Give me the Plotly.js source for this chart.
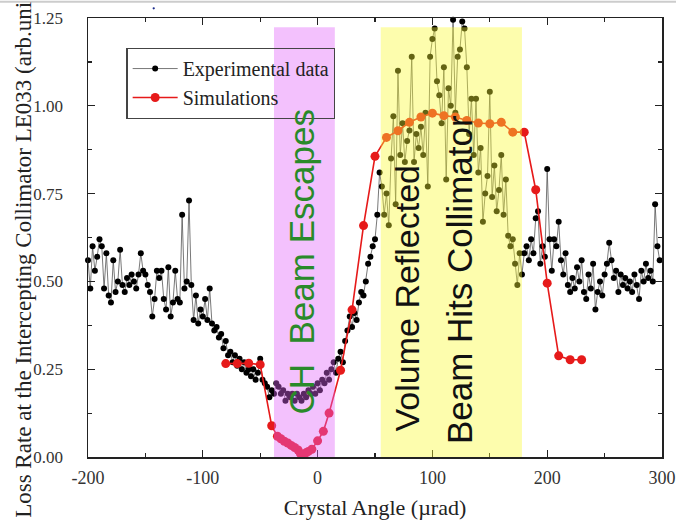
<!DOCTYPE html>
<html>
<head>
<meta charset="utf-8">
<script src="https://cdn.plot.ly/plotly-3.0.1.min.js"></script>
<style>html,body{margin:0;padding:0;background:#fff;}#chart{width:676px;height:523px;}</style>
</head>
<body>
<div id="chart"></div>
<script>
// Experimental data (crystal angle in µrad, loss rate in arb. units)
const expX = [
-200,-198,-196,-194,-192,-190,-188,-186,-184,-182,-180,-178,-176,-174,-172,-170,-168,-166,-164,-162,-160,-158,-156,-154,-152,
-150,-148,-146,-144,-142,-140,-138,-136,-134,-132,-130,-128,-126,-124,-122,-120,-118,-116,-114,-112,-110,-108,-106,-104,-102,
-100,-98,-96,-94,-92,-90,-88,-86,-84,-82,-80,-78,-76,-74,-72,-70,-68,-66,-64,-62,-60,-58,-56,-54,-52,
-50,-48,-46,-44,-42,-40,-38,-36,-34,-32,-30,-28,-26,-24,-22,-20,-18,-16,-14,-12,-10,-8,-6,-4,-2,
0,2,4,6,8,10,12,14,16,18,20,22,24,26,28,30,32,34,36,38,40,42,44,46,48,
50,52,54,56,58,60,62,64,66,68,70,72,74,76,78,80,82,84,86,88,90,92,94,96,98,
100,102,104,106,108,110,112,114,116,118,120,122,124,126,128,130,132,134,136,138,140,142,144,146,148,
150,152,154,156,158,160,162,164,166,168,170,172,174,176,178,180,182,184,186,188,190,192,194,196,198,
200,202,204,206,208,210,212,214,216,218,220,222,224,226,228,230,232,234,236,238,240,242,244,246,248,
250,252,254,256,258,260,262,264,266,268,270,272,274,276,278,280,282,284,286,288,290,292,294,296,298
];
const expY = [
0.56,0.48,0.60,0.53,0.57,0.62,0.60,0.48,0.58,0.46,0.44,0.56,0.47,0.50,0.59,0.49,0.47,0.51,0.49,0.52,0.50,0.48,0.52,0.58,0.53,
0.52,0.49,0.47,0.40,0.45,0.53,0.51,0.53,0.45,0.42,0.54,0.40,0.44,0.53,0.45,0.44,0.69,0.48,0.50,0.73,0.49,0.39,0.46,0.38,0.42,
0.40,0.45,0.39,0.48,0.38,0.36,0.37,0.34,0.35,0.31,0.33,0.29,0.30,0.27,0.29,0.26,0.28,0.25,0.27,0.24,0.25,0.23,0.25,0.22,0.24,
0.28,0.22,0.21,0.20,0.17,0.19,0.18,0.21,0.20,0.18,0.19,0.16,0.18,0.17,0.18,0.16,0.18,0.17,0.16,0.18,0.17,0.19,0.18,0.20,0.18,
0.21,0.19,0.22,0.21,0.24,0.22,0.25,0.27,0.24,0.28,0.30,0.27,0.33,0.36,0.40,0.37,0.41,0.39,0.44,0.47,0.46,0.50,0.55,0.57,0.60,
0.62,0.69,0.81,0.77,0.69,0.75,0.66,0.85,0.97,0.72,1.10,0.86,0.95,0.84,0.90,0.93,1.14,0.84,0.92,0.88,0.94,0.86,0.98,0.77,1.14,
1.19,1.22,1.07,1.03,0.95,1.11,0.79,1.05,1.00,1.245,0.98,1.14,1.16,1.24,1.22,1.11,0.92,1.02,0.86,1.02,0.81,0.88,0.67,0.75,0.80,
1.04,0.74,0.83,0.70,0.76,0.86,0.69,0.79,0.63,0.60,0.62,0.55,0.49,0.58,0.52,0.58,0.60,0.56,0.62,0.58,0.68,0.70,0.55,0.60,0.57,
0.82,0.62,0.53,0.62,0.60,0.67,0.56,0.52,0.58,0.49,0.47,0.51,0.48,0.54,0.50,0.56,0.47,0.45,0.52,0.48,0.55,0.42,0.47,0.50,0.46,
0.52,0.55,0.61,0.56,0.51,0.53,0.47,0.52,0.49,0.51,0.48,0.50,0.47,0.52,0.49,0.45,0.53,0.50,0.55,0.51,0.53,0.50,0.72,0.60,0.56
];

// Simulations
const simX = [-80,-70,-60,-50,-40,-35,-32,-29,-26,-23,-20,-17,-15,-12,-10,-8,-5,0,5,10,20,30,40,50,60,70,80,90,100,110,120,130,140,150,160,170,180,190,200,210,220,230];
const simY = [0.266,0.266,0.267,0.263,0.089,0.059,0.052,0.045,0.040,0.033,0.027,0.020,0.010,0.008,0.012,0.016,0.022,0.046,0.073,0.125,0.247,0.419,0.659,0.856,0.910,0.929,0.953,0.968,0.979,0.972,0.968,0.958,0.951,0.949,0.953,0.925,0.925,0.761,0.495,0.288,0.277,0.277];

// Axis ticks
const xTickVals = [-200,-100,0,100,200,300];
const xTickText = ["-200","-100","0","100","200","300"];
const yTickVals = [0,0.25,0.5,0.75,1.0,1.25];
const yTickText = ["0.00","0.25","0.50","0.75","1.00","1.25"];

// Highlighted regions [x0, x1, top]
const chRegion = [-38, 15, 1.224];
const vrRegion = [55, 178, 1.224];

const serif = "Liberation Serif, Times New Roman, serif";
const sans = "Liberation Sans, Arial, sans-serif";

const traces = [
  {
    x: expX, y: expY, type: "scatter", mode: "lines+markers",
    name: "Experimental data",
    line: {color: "#555555", width: 0.8},
    marker: {color: "#000000", size: 6},
    cliponaxis: false
  },
  {
    x: simX, y: simY, type: "scatter", mode: "lines+markers",
    name: "Simulations",
    line: {color: "#e61a1a", width: 1.6},
    marker: {color: "#e61a1a", size: 9},
    cliponaxis: false
  }
];

const axisCommon = {
  showline: true, linecolor: "#222", linewidth: 1.5, mirror: "allticks",
  ticks: "inside", ticklen: 7, tickwidth: 1.3, tickcolor: "#222",
  showgrid: false, zeroline: false,
  tickfont: {family: serif, size: 18, color: "#333"}
};

const layout = {
  width: 676, height: 523,
  margin: {l: 88, r: 14, t: 18, b: 66},
  paper_bgcolor: "#fff", plot_bgcolor: "#fff",
  showlegend: true,
  legend: {
    x: 0.067, y: 0.932, xanchor: "left", yanchor: "top",
    bgcolor: "rgba(0,0,0,0)", bordercolor: "#444", borderwidth: 1.2,
    font: {family: serif, size: 20, color: "#222"},
    itemwidth: 45, tracegroupgap: 0
  },
  xaxis: Object.assign({}, axisCommon, {
    range: [-200, 300], tickmode: "array", tickvals: xTickVals, ticktext: xTickText,
    ticklabelstandoff: 4,
    minor: {dtick: 50, tick0: -200, ticks: "inside", ticklen: 4, tickcolor: "#222", tickwidth: 1.2, showgrid: false},
    title: {text: "Crystal Angle (µrad)", font: {family: serif, size: 22, color: "#222"}, standoff: 12}
  }),
  yaxis: Object.assign({}, axisCommon, {
    range: [0, 1.25], tickmode: "array", tickvals: yTickVals, ticktext: yTickText,
    ticklabelstandoff: 20,
    tickfont: {family: serif, size: 17, color: "#333"},
    minor: {dtick: 0.125, tick0: 0, ticks: "inside", ticklen: 4, tickcolor: "#222", tickwidth: 1.2, showgrid: false}
  }),
  shapes: [
    {type: "rect", xref: "x", yref: "y", x0: chRegion[0], x1: chRegion[1], y0: 0, y1: chRegion[2],
     fillcolor: "rgba(225,100,250,0.4)", line: {width: 0}, layer: "above"},
    {type: "rect", xref: "x", yref: "y", x0: vrRegion[0], x1: vrRegion[1], y0: 0, y1: vrRegion[2],
     fillcolor: "rgba(250,250,50,0.4)", line: {width: 0}, layer: "above"},
    {type: "line", xref: "paper", yref: "paper", x0: -0.16, x1: 1.03, y0: 1.037, y1: 1.037,
     line: {color: "#cccccc", width: 2}},
    {type: "circle", xref: "paper", yref: "paper", x0: 0.1125, x1: 0.1165, y0: 1.0195, y1: 1.0245,
     fillcolor: "#1a2a8a", line: {width: 0}}
  ],
  annotations: [
    {text: "Loss Rate at the Intercepting Collimator LE033 (arb.uni", xref: "paper", yref: "paper",
     x: -0.1123, y: 0.448, xanchor: "center", yanchor: "middle", textangle: -90, showarrow: false,
     font: {family: serif, size: 23, color: "#222"}},
    {text: "CH  Beam Escapes", xref: "x", yref: "y", x: -13.8, y: 0.556, textangle: -90, showarrow: false,
     xanchor: "center", yanchor: "middle", font: {family: sans, size: 35, color: "#2a8a2a"}},
    {text: "Volume Reflected", xref: "x", yref: "y", x: 77.8, y: 0.454, textangle: -90, showarrow: false,
     xanchor: "center", yanchor: "middle", font: {family: sans, size: 34, color: "#111"}},
    {text: "Beam Hits Collimator", xref: "x", yref: "y", x: 123, y: 0.506, textangle: -90, showarrow: false,
     xanchor: "center", yanchor: "middle", font: {family: sans, size: 35, color: "#111"}}
  ]
};

Plotly.newPlot("chart", traces, layout, {displayModeBar: false, staticPlot: true});
</script>
</body>
</html>
